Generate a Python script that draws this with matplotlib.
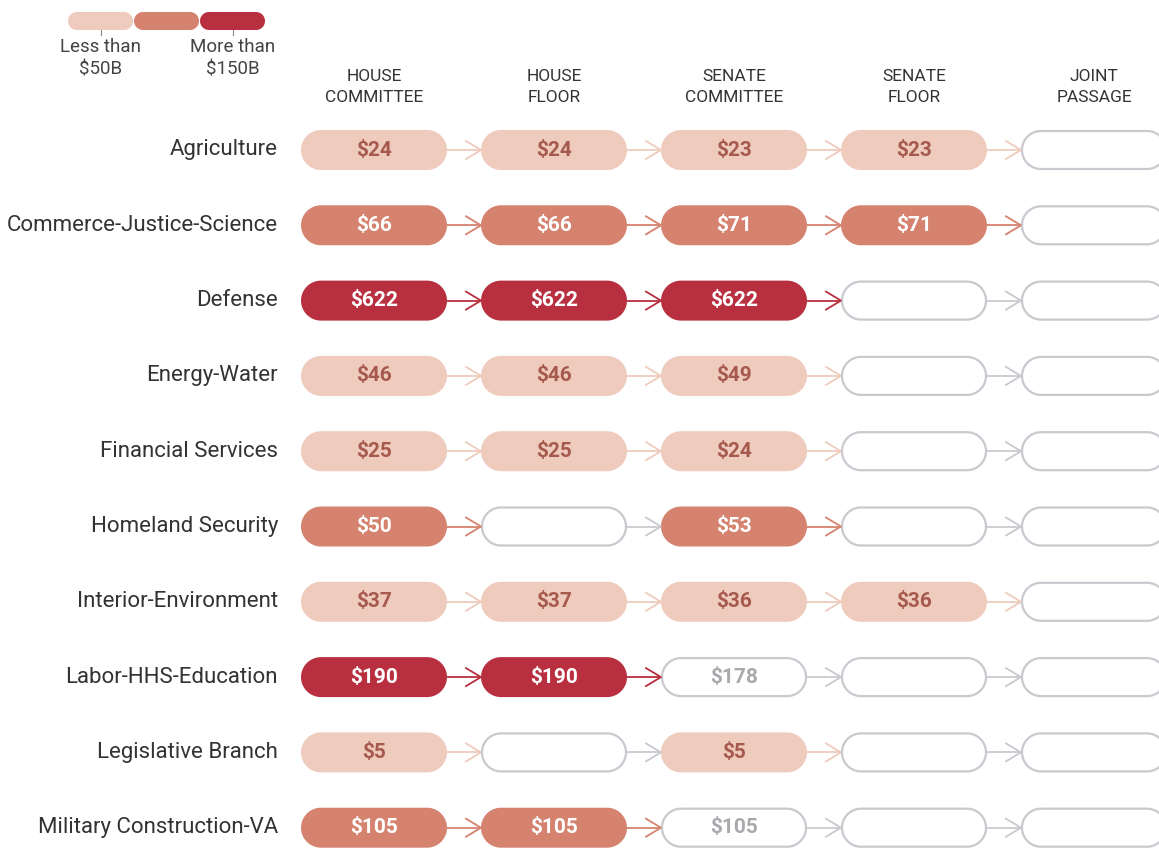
import matplotlib
matplotlib.use("Agg")
import numpy as np
import matplotlib.pyplot as plt
from matplotlib.patches import PathPatch
from matplotlib.path import Path

# ---- data ----
bills = ["Agriculture", "Commerce-Justice-Science", "Defense", "Energy-Water",
         "Financial Services", "Homeland Security", "Interior-Environment",
         "Labor-HHS-Education", "Legislative Branch", "Military Construction-VA"]
stages = ["HOUSE\nCOMMITTEE", "HOUSE\nFLOOR", "SENATE\nCOMMITTEE", "SENATE\nFLOOR", "JOINT\nPASSAGE"]

# billions of dollars at each stage, None = not reached
house_committee = [24, 66, 622, 46, 25, 50, 37, 190, 5, 105]
house_floor     = [24, 66, 622, 46, 25, None, 37, 190, None, 105]
senate_committee = [23, 71, 622, 49, 24, 53, 36, 178, 5, 105]
senate_floor    = [23, 71, None, None, None, None, 36, None, None, None]
joint_passage   = [None] * 10
# senate committee amounts shown only as an outline (pending)
senate_committee_pending = [False, False, False, False, False, False, False, True, False, True]

legend_labels = ["Less than\n$50B", "More than\n$150B"]

# ---- style ----
LIGHT, MID, DARK = "#efcbbd", "#d5826f", "#b8303f"
GREY = "#c9c9cf"
LIGHT_TEXT = "#a65a4e"
TEXT = "#333333"

def fill_for(v):
    if v < 50:
        return LIGHT
    if v <= 150:
        return MID
    return DARK

plt.rcParams["font.family"] = ["Roboto", "DejaVu Sans"]

W, H = 1159, 848
fig = plt.figure(figsize=(W / 100, H / 100), dpi=100)
ax = fig.add_axes([0, 0, 1, 1])
ax.set_xlim(0, W)
ax.set_ylim(H, 0)
ax.axis("off")

col_left0, col_pitch, pill_w, pill_h = 301, 180, 146, 40
row_top, row_pitch = 150, 75.3
label_x = 278

columns = [house_committee, house_floor, senate_committee, senate_floor, joint_passage]

def pill(x0, yc, w, h, face, edge=None, lw=0):
    # stadium shape: straight middle with half-circle ends
    r = h / 2
    t1 = np.linspace(np.pi / 2, 3 * np.pi / 2, 40)
    t2 = np.linspace(-np.pi / 2, np.pi / 2, 40)
    xs = np.concatenate([x0 + r + r * np.cos(t1), x0 + w - r + r * np.cos(t2)])
    ys = np.concatenate([yc - r * np.sin(t1), yc - r * np.sin(t2)])
    verts = np.column_stack([np.append(xs, xs[0]), np.append(ys, ys[0])])
    codes = [Path.MOVETO] + [Path.LINETO] * (len(verts) - 2) + [Path.CLOSEPOLY]
    ax.add_patch(PathPatch(Path(verts, codes), facecolor=face,
                           edgecolor=edge if edge else face, linewidth=lw))

def arrow(x0, x1, y, color):
    ax.plot([x0, x1], [y, y], color=color, lw=1.3, solid_capstyle="butt")
    ax.plot([x1 - 15, x1, x1 - 15], [y - 9, y, y + 9], color=color, lw=1.3,
            solid_joinstyle="miter")

for j, name in enumerate(stages):
    cx = col_left0 + j * col_pitch + pill_w / 2
    ax.text(cx, 87, name, ha="center", va="center", fontsize=12.5,
            color=TEXT, linespacing=1.5)

for i, bill in enumerate(bills):
    y = row_top + i * row_pitch
    ax.text(label_x, y, bill, ha="right", va="center", fontsize=16, color=TEXT)
    for j, col in enumerate(columns):
        x0 = col_left0 + j * col_pitch
        v = col[i]
        pending = (j == 2 and senate_committee_pending[i])
        if v is None or pending:
            pill(x0 + 1, y, pill_w - 2, pill_h - 2, "white", GREY, 1.6)
            out_color = GREY
            if v is not None:
                ax.text(x0 + pill_w / 2, y, "$%d" % v, ha="center", va="center",
                        fontsize=15, fontweight="bold", color="#a9a9ad")
        else:
            face = fill_for(v)
            pill(x0, y, pill_w, pill_h, face)
            out_color = face
            ax.text(x0 + pill_w / 2, y, "$%d" % v, ha="center", va="center",
                    fontsize=15, fontweight="bold",
                    color=LIGHT_TEXT if face == LIGHT else "white")
        if j < len(columns) - 1:
            arrow(x0 + pill_w, x0 + col_pitch, y, out_color)

# legend
leg_x0, leg_w, leg_y, leg_h = 68, 65, 21, 18
for k, c in enumerate([LIGHT, MID, DARK]):
    pill(leg_x0 + k * (leg_w + 1), leg_y, leg_w, leg_h, c)
for k, lab in zip([0, 2], legend_labels):
    cx = leg_x0 + k * (leg_w + 1) + leg_w / 2
    ax.plot([cx, cx], [leg_y + leg_h / 2, leg_y + leg_h / 2 + 5], color="#888888", lw=0.8)
    ax.text(cx, 58, lab, ha="center", va="center", fontsize=13.5,
            color="#444444", linespacing=1.3)

fig.savefig("out.png", dpi=100, facecolor="white")
